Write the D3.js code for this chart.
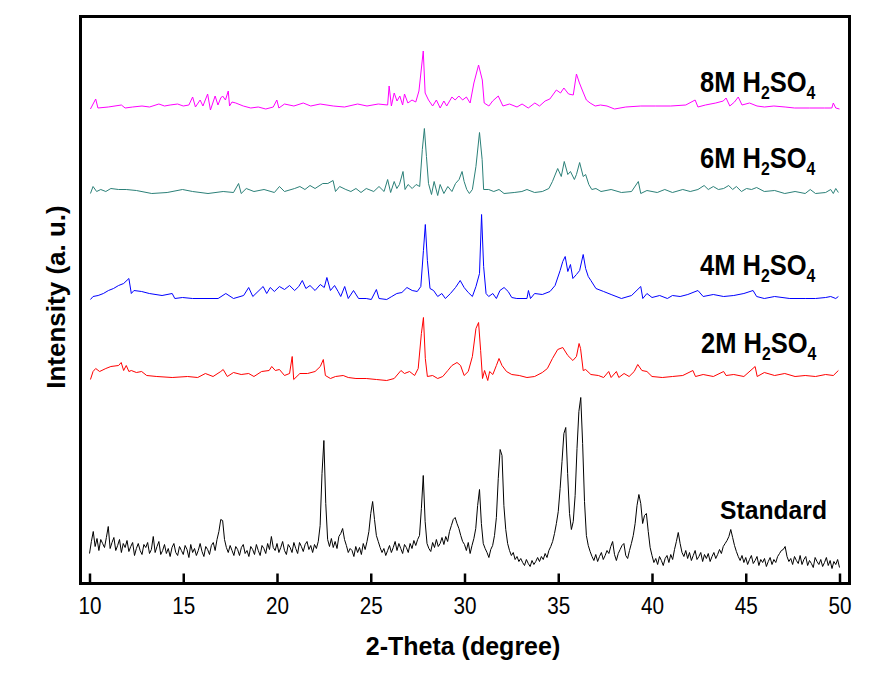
<!DOCTYPE html>
<html><head><meta charset="utf-8">
<script src="https://cdn.jsdelivr.net/npm/d3@7/dist/d3.min.js"></script>
<style>body{margin:0;background:#fff}svg{display:block}text{font-family:"Liberation Sans",Arial,sans-serif}</style>
</head><body>
<svg id="c" width="874" height="679"></svg>
<script>
// x tick labels
const xTicks = [10, 15, 20, 25, 30, 35, 40, 45, 50];
// Standard pattern: sampled from 10.0 to 50.0 deg every 0.1 deg (height above axis, a.u.)
const stdStart = 10, stdStep = 0.1;
const stdI = [
30,42,52,37,45,33,44,40,36,46,
57,35,41,46,33,38,44,31,40,36,
43,32,37,41,28,35,40,33,29,39,
36,41,30,34,47,31,37,42,29,33,
39,30,35,27,36,40,31,28,37,33,
29,38,34,26,39,31,35,28,33,40,
32,27,37,34,29,38,41,33,44,52,
64,63,44,36,31,38,33,28,37,34,
28,36,39,30,33,27,37,34,29,39,
33,28,38,35,30,40,34,47,36,33,
40,31,36,42,33,29,39,36,31,41,
35,30,41,37,32,39,42,34,38,31,
39,35,42,58,110,143,80,44,37,45,
36,42,35,47,50,55,44,38,31,35,
33,27,37,31,36,29,40,34,42,52,
70,82,64,48,42,36,31,35,28,33,
38,31,36,42,33,40,35,30,39,36,
31,40,35,43,38,44,48,75,108,62,
40,35,32,41,36,44,37,40,46,39,
47,42,52,58,64,66,60,55,48,42,
39,33,41,30,38,45,55,78,94,60,
40,35,31,26,34,38,48,66,105,134,
128,78,54,40,33,28,31,24,27,22,
25,21,18,24,20,17,23,19,22,26,
22,27,24,30,26,33,37,42,50,60,
72,95,122,150,156,110,70,54,62,88,
135,172,186,140,82,48,38,32,27,23,
29,22,27,31,24,28,33,30,37,42,
29,23,30,34,38,40,28,25,33,40,
48,60,78,89,80,60,68,70,52,36,
28,21,25,19,27,23,18,25,28,21,
29,24,34,42,51,40,31,27,33,25,
31,23,28,33,24,27,31,22,29,25,
30,22,27,31,25,29,34,30,37,40,
43,47,54,46,38,32,27,23,28,21,
26,19,24,28,20,23,27,18,24,21,
25,17,22,26,19,24,21,27,30,33,
34,37,27,22,25,19,27,23,20,28,
19,24,27,18,23,20,16,26,22,19,
24,17,21,26,18,23,15,22,19,24,
16];

// [2theta, intensity above own baseline]
const m2 = [[10.05,-2],[10.19,6],[10.33,9],[10.54,6],[10.87,9],[11.14,11],[11.55,12],[11.69,15],[11.82,7],[11.96,12],[12.1,6],[12.23,7],[12.5,5],[12.78,6],[13.05,2],[13.59,1],[14.41,0],[15.23,1],[15.77,0],[16.18,4],[16.59,1],[17.0,6],[17.13,8],[17.35,1],[17.68,5],[18.09,3],[18.49,4],[18.77,1],[19.18,6],[19.58,7],[19.72,11],[19.91,7],[20.13,8],[20.4,2],[20.67,4],[20.81,21],[20.89,-2],[21.22,4],[21.63,4],[22.03,6],[22.31,11],[22.47,18],[22.58,2],[22.85,-1],[23.12,1],[23.53,2],[23.8,0],[24.21,-1],[24.76,-1],[25.3,-2],[25.85,-3],[26.25,-1],[26.61,7],[26.8,4],[27.07,6],[27.34,2],[27.53,9],[27.7,44],[27.81,60],[27.91,19],[28.02,1],[28.3,2],[28.57,-1],[28.84,1],[29.11,7],[29.33,12],[29.6,15],[29.79,12],[29.98,2],[30.2,6],[30.42,21],[30.61,49],[30.75,55],[30.86,27],[30.96,-1],[31.07,7],[31.24,-3],[31.34,6],[31.51,3],[31.7,12],[31.84,19],[32.0,12],[32.24,6],[32.52,3],[32.92,2],[33.33,0],[33.74,1],[34.15,5],[34.42,9],[34.69,19],[34.97,28],[35.24,30],[35.51,22],[35.78,17],[35.97,21],[36.11,34],[36.19,29],[36.33,7],[36.46,8],[36.74,3],[37.14,2],[37.42,0],[37.69,6],[37.82,0],[38.1,6],[38.23,0],[38.51,4],[38.78,1],[39.05,6],[39.24,13],[39.46,7],[39.73,6],[40.0,1],[40.55,0],[41.09,1],[41.64,2],[42.18,7],[42.32,1],[42.73,3],[43.27,1],[43.82,6],[43.95,2],[44.36,3],[44.9,1],[45.5,11],[45.61,1],[45.99,5],[46.54,2],[47.08,4],[47.63,1],[48.17,2],[48.72,1],[49.26,3],[49.67,2],[49.94,7]];

const m4 = [[10.05,-1],[10.19,2],[10.46,3],[10.74,5],[11.01,8],[11.28,10],[11.55,13],[11.82,15],[12.1,20],[12.23,5],[12.37,8],[12.78,7],[13.19,5],[13.87,3],[14.41,5],[14.55,0],[14.96,1],[15.5,0],[16.32,0],[16.86,0],[17.27,5],[17.68,0],[18.22,3],[18.49,11],[18.71,2],[19.04,8],[19.26,12],[19.45,5],[19.64,11],[19.86,7],[20.13,12],[20.4,9],[20.67,13],[20.94,8],[21.16,12],[21.35,18],[21.54,10],[21.76,13],[22.03,8],[22.31,14],[22.52,11],[22.66,21],[22.85,8],[23.07,13],[23.26,7],[23.4,2],[23.61,12],[23.8,0],[24.08,8],[24.35,0],[24.76,0],[25.03,-1],[25.3,9],[25.44,0],[25.85,-1],[26.12,2],[26.39,5],[26.66,6],[26.93,11],[27.21,8],[27.48,7],[27.67,12],[27.81,48],[27.91,74],[28.02,38],[28.16,10],[28.35,8],[28.57,2],[28.79,5],[28.98,0],[29.25,5],[29.52,11],[29.77,18],[29.98,11],[30.2,6],[30.42,2],[30.61,12],[30.8,25],[30.91,84],[31.02,32],[31.15,5],[31.29,2],[31.51,5],[31.7,0],[31.89,8],[32.11,11],[32.33,7],[32.52,1],[32.79,0],[33.33,0],[33.41,8],[33.52,0],[33.74,5],[34.15,4],[34.56,7],[34.83,13],[35.1,28],[35.24,37],[35.37,42],[35.51,27],[35.65,34],[35.78,20],[35.97,24],[36.14,28],[36.33,44],[36.46,30],[36.6,22],[36.74,18],[37.01,10],[37.42,7],[37.82,4],[38.37,0],[38.91,3],[39.4,12],[39.51,0],[39.73,5],[40.0,1],[40.41,3],[40.82,0],[41.09,3],[41.5,2],[41.91,4],[42.45,8],[42.73,2],[43.27,4],[43.82,2],[44.36,3],[44.9,5],[45.39,8],[45.58,2],[45.99,0],[46.54,2],[47.35,0],[48.17,0],[48.72,0],[49.26,1],[49.53,2],[49.8,0],[49.94,2]];

const m6 = [[10.05,-1],[10.19,6],[10.38,1],[10.6,3],[10.87,1],[11.14,4],[11.55,3],[11.96,3],[12.5,2],[13.32,-1],[14.14,0],[14.96,3],[15.5,1],[16.32,-1],[17.13,1],[17.68,0],[17.95,9],[18.09,-1],[18.36,4],[18.77,1],[19.31,3],[19.86,0],[20.13,6],[20.4,1],[20.94,4],[21.22,6],[21.49,3],[21.76,7],[22.03,4],[22.44,9],[22.71,9],[22.99,12],[23.12,1],[23.34,6],[23.67,3],[23.94,1],[24.21,4],[24.48,0],[24.76,4],[25.16,1],[25.44,6],[25.71,1],[25.9,13],[26.06,0],[26.25,11],[26.39,4],[26.53,8],[26.72,21],[26.83,3],[26.99,8],[27.21,4],[27.42,8],[27.61,6],[27.75,43],[27.86,64],[27.97,36],[28.08,9],[28.24,-2],[28.38,11],[28.57,-3],[28.7,8],[28.9,-1],[29.11,6],[29.33,1],[29.52,9],[29.71,13],[29.87,21],[29.98,11],[30.12,3],[30.26,-1],[30.42,3],[30.61,26],[30.8,60],[30.94,33],[31.02,3],[31.29,3],[31.56,1],[31.84,3],[32.11,-1],[32.65,0],[33.06,1],[33.33,3],[33.74,0],[34.15,1],[34.5,4],[34.69,11],[34.97,24],[35.16,16],[35.32,31],[35.51,18],[35.65,21],[35.86,13],[35.97,18],[36.14,30],[36.33,16],[36.46,18],[36.63,8],[36.79,3],[37.01,4],[37.28,1],[37.82,3],[38.37,0],[38.91,1],[39.27,11],[39.4,-1],[39.73,2],[40.28,0],[40.68,3],[41.09,0],[41.64,3],[42.04,1],[42.45,3],[42.78,7],[43.0,3],[43.27,6],[43.54,3],[43.82,4],[44.09,7],[44.3,3],[44.5,6],[44.77,1],[45.04,4],[45.31,3],[45.58,5],[45.99,1],[46.54,2],[47.08,-1],[47.63,1],[48.17,-1],[48.44,3],[48.72,-1],[49.26,0],[49.53,3],[49.67,-1],[49.8,4],[49.94,0]];

const m8 = [[10.05,-1],[10.33,9],[10.45,0],[11.0,1],[11.7,3],[11.9,0],[12.3,1],[12.8,2],[13.2,1],[13.7,4],[14.0,2],[14.3,3],[14.7,4],[15.0,2],[15.3,3],[15.5,11],[15.65,1],[15.9,8],[16.05,2],[16.3,14],[16.45,-2],[16.7,12],[16.85,3],[17.0,10],[17.1,12],[17.25,8],[17.4,17],[17.47,2],[17.6,6],[17.8,5],[18.2,2],[18.6,0],[19.0,1],[19.4,-1],[19.8,1],[19.99,8],[20.1,0],[20.4,4],[20.9,2],[21.4,5],[21.8,2],[22.3,4],[23.0,2],[23.6,1],[24.3,4],[24.8,2],[25.4,4],[25.9,3],[25.98,22],[26.1,2],[26.25,15],[26.4,7],[26.55,12],[26.7,3],[26.8,14],[26.98,5],[27.2,8],[27.4,6],[27.57,17],[27.8,57],[27.9,15],[28.08,8],[28.3,2],[28.5,8],[28.7,0],[28.9,7],[29.05,2],[29.33,11],[29.5,8],[29.7,12],[29.9,8],[30.1,11],[30.3,5],[30.5,25],[30.75,43],[30.95,28],[31.05,5],[31.3,2],[31.5,7],[31.8,12],[32.05,2],[32.4,4],[32.8,1],[33.07,4],[33.4,0],[33.75,5],[34.0,2],[34.3,7],[34.55,9],[34.9,18],[35.12,15],[35.3,20],[35.55,14],[35.8,13],[35.97,34],[36.13,25],[36.3,17],[36.5,8],[36.7,5],[36.97,2],[37.25,3],[37.6,2],[38.0,-1],[38.6,1],[39.4,2],[40.2,2],[41.0,2],[41.8,3],[42.3,8],[42.45,1],[42.85,3],[43.4,5],[43.8,7],[43.95,10],[44.15,2],[44.4,6],[44.6,11],[44.8,3],[45.2,5],[45.6,2],[46.0,1],[46.5,2],[47.1,1],[47.6,0],[48.4,0],[49.2,0],[49.59,0],[49.67,5],[49.8,0],[50.0,-1]];

const labelsConc = ["2M", "4M", "6M", "8M"];
const offsets = [206, 285, 391, 475.5];
const colors = ["#ff0000", "#0000ff", "#2b8078", "#ff00ff"];
const stdColor = "#000000";

const svg = d3.select("#c");
const x = d3.scaleLinear().domain([10, 50]).range([89.5, 839.5]);
const y = d3.scaleLinear().domain([0, 568]).range([583.5, 15.5]);

const frameL = 80.5, frameR = 849.5, frameT = 16.5, frameB = 583.5;

const line = d3.line().x(d => x(d[0])).y(d => y(d[1]));

// Standard
const stdData = stdI.map((v, i) => [stdStart + i * stdStep, v]);
svg.append("path").datum(stdData).attr("d", line)
  .attr("fill", "none").attr("stroke", stdColor).attr("stroke-width", 1).attr("stroke-linejoin", "round");

[m2, m4, m6, m8].forEach((s, k) => {
  svg.append("path").datum(s.map(d => [d[0], d[1] + offsets[k]])).attr("d", line)
    .attr("fill", "none").attr("stroke", colors[k]).attr("stroke-width", 1).attr("stroke-linejoin", "round");
});

// x axis (ticks pointing inward)
const xAxis = d3.axisBottom(x).tickValues(xTicks).tickSize(-10).tickFormat(d3.format("d"));
const gx = svg.append("g").attr("transform", `translate(0,${frameB})`).call(xAxis);
gx.select(".domain").remove();
gx.selectAll(".tick line").attr("stroke", "#000").attr("stroke-width", 2.5);
gx.selectAll(".tick").each(function(d){
  const t = d3.select(this);
  t.select("text").remove();
  t.append("text").attr("transform", "scale(0.9,1)").attr("text-anchor", "middle")
    .attr("y", 31).attr("font-size", 23).attr("fill", "#000").text(d);
});

// frame
svg.append("rect").attr("x", frameL).attr("y", frameT)
  .attr("width", frameR - frameL).attr("height", frameB - frameT)
  .attr("fill", "none").attr("stroke", "#000").attr("stroke-width", 3);

// axis titles
svg.append("text").attr("transform", "translate(463,655)")
  .attr("text-anchor", "middle").attr("font-size", 25).attr("font-weight", "bold").text("2-Theta (degree)");
svg.append("text").attr("transform", "translate(65,297) rotate(-90)")
  .attr("text-anchor", "middle").attr("font-size", 26).attr("font-weight", "bold").text("Intensity (a. u.)");

// series labels
const labelPos = [[701, 353], [700, 275], [700, 168], [700, 92]];
labelsConc.forEach((lab, k) => {
  const t = svg.append("text")
    .attr("transform", `translate(${labelPos[k][0]},${labelPos[k][1]}) scale(0.88,1)`)
    .attr("font-size", 29).attr("font-weight", "bold").attr("fill", "#000");
  t.append("tspan").text(lab + " H");
  t.append("tspan").attr("font-size", 18).attr("dy", 7).text("2");
  t.append("tspan").attr("dy", -7).text("SO");
  t.append("tspan").attr("font-size", 18).attr("dy", 7).text("4");
});
svg.append("text").attr("transform", "translate(720,519) scale(0.95,1)")
  .attr("font-size", 26).attr("font-weight", "bold").attr("fill", "#000").text("Standard");
</script>
</body></html>
